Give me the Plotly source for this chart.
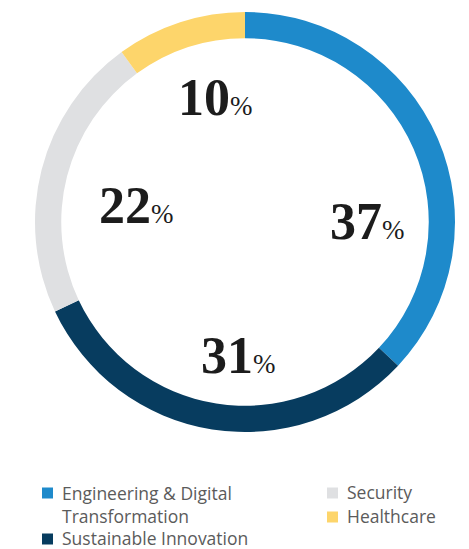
import plotly.graph_objects as go

# Portfolio share by focus area
categories = ["Engineering & Digital Transformation", "Sustainable Innovation", "Security", "Healthcare"]
shares = [37, 31, 22, 10]
colors = ["#1e8acb", "#073c5f", "#dfe0e2", "#fdd56b"]

# Legend text per category (line-broken where it wraps)
legend_text = ["Engineering & Digital<br>Transformation", "Sustainable Innovation", "Security", "Healthcare"]

W, H = 469, 549


def px(x):
    return x / W


def py(y):
    return 1 - y / H


fig = go.Figure()
fig.add_trace(go.Pie(
    labels=categories,
    values=shares,
    marker=dict(colors=colors, line=dict(width=0)),
    hole=0.875,
    sort=False,
    direction="clockwise",
    rotation=0,
    textinfo="none",
    hoverinfo="label+percent",
    showlegend=False,
    domain=dict(x=[px(35), px(455)], y=[py(432), py(12)]),
))

# Percentage labels inside the ring
label_pos = [(367, 221), (238, 355), (136, 205), (215, 97)]
annotations = []
for v, (x, y) in zip(shares, label_pos):
    annotations.append(dict(
        x=px(x), y=py(y), xref="paper", yref="paper",
        text=f"<b>{v}</b><span style='font-size:27px'>%</span>",
        showarrow=False, xanchor="center", yanchor="middle",
        font=dict(family="Liberation Serif, DejaVu Serif, serif", size=52, color="#1c1c1c"),
    ))

# Hand-placed two-column legend
legend_pos = [(42, 493), (42, 539), (327, 493), (327, 517)]
shapes = []
for name, col, (x, y) in zip(legend_text, colors, legend_pos):
    shapes.append(dict(
        type="rect", xref="paper", yref="paper",
        x0=px(x), x1=px(x + 11), y0=py(y + 5.5), y1=py(y - 5.5),
        fillcolor=col, line=dict(width=0),
    ))
    annotations.append(dict(
        x=px(x + 19), y=py(y - 1 if "<br>" not in name else y + 11), xref="paper", yref="paper",
        text=name, showarrow=False, xanchor="left",
        yanchor="middle", align="left", borderpad=0,
        font=dict(family="Open Sans, Noto Sans, sans-serif", size=17.5, color="#5b5b5b"),
    ))

fig.update_layout(
    width=W, height=H,
    margin=dict(l=0, r=0, t=0, b=0),
    paper_bgcolor="white", plot_bgcolor="white",
    annotations=annotations,
    shapes=shapes,
)

fig.write_html("out.html")
